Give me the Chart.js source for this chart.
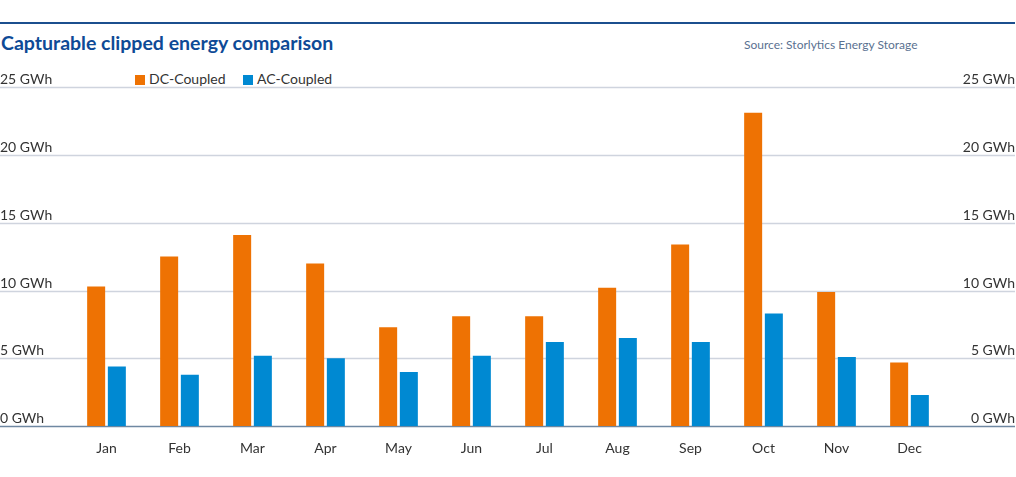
<!DOCTYPE html>
<html>
<head>
<meta charset="utf-8">
<script src="https://cdn.jsdelivr.net/npm/chart.js@4"></script>
<style>
    body { margin: 0; background: #fff; font-family: Lato, "Open Sans", sans-serif; }
    #wrap { position: relative; width: 1016px; height: 477px; overflow: hidden; }
    #rule { position: absolute; left: 0; top: 22px; width: 1015px; height: 2px; background: #1b4f8e; }
    #title { position: absolute; left: 1px; top: 31px; font-size: 19.5px; font-weight: bold; color: #0e4a96; white-space: nowrap; }
    #source { position: absolute; left: 744px; top: 37px; font-size: 12px; color: #5a7191; white-space: nowrap; }
    .legend { position: absolute; top: 70px; font-size: 14px; color: #333; white-space: nowrap; }
    .legend span { display: inline-block; width: 10px; height: 10px; margin-right: 4px; vertical-align: -1px; }
    canvas { position: absolute; left: 0; top: 0; }
</style>
</head>
<body>
<div id="wrap">
    <div id="rule"></div>
    <div id="title">Capturable clipped energy comparison</div>
    <div id="source">Source: Storlytics Energy Storage</div>
    <div class="legend" style="left:135px"><span style="background:#ee7203"></span>DC-Coupled</div>
    <div class="legend" style="left:243px"><span style="background:#0089d2"></span>AC-Coupled</div>
    <canvas id="energyChart" width="1016" height="477"></canvas>
</div>
<script>
const months = ['Jan', 'Feb', 'Mar', 'Apr', 'May', 'Jun', 'Jul', 'Aug', 'Sep', 'Oct', 'Nov', 'Dec'];
const dcCoupled = [10.3, 12.5, 14.1, 12.0, 7.3, 8.1, 8.1, 10.2, 13.4, 23.1, 9.9, 4.7];
const acCoupled = [4.4, 3.8, 5.2, 5.0, 4.0, 5.2, 6.2, 6.5, 6.2, 8.3, 5.1, 2.3];
const yTicks = [0, 5, 10, 15, 20, 25];

// grid lines + GWh labels across the full width, both sides
const fullGrid = {
    id: 'fullGrid',
    beforeDatasetsDraw(chart) {
        const ctx = chart.ctx;
        const y = chart.scales.y;
        ctx.save();
        ctx.font = '14px Lato';
        ctx.fillStyle = '#333';
        ctx.textBaseline = 'alphabetic';
        yTicks.forEach(function (t) {
            const py = Math.round(y.getPixelForValue(t)) + 0.5;
            ctx.strokeStyle = t === 0 ? '#6f88a2' : '#cfd4de';
            ctx.lineWidth = 1.5;
            ctx.beginPath();
            ctx.moveTo(0, py);
            ctx.lineTo(1015, py);
            ctx.stroke();
            const label = t + ' GWh';
            ctx.textAlign = 'left';
            ctx.fillText(label, 0, py - 4);
            ctx.textAlign = 'right';
            ctx.fillText(label, 1015, py - 4);
        });
        ctx.restore();
    }
};

const ctx = document.getElementById('energyChart').getContext('2d');
new Chart(ctx, {
    type: 'bar',
    data: {
        labels: months,
        datasets: [
            {
                label: 'DC-Coupled',
                data: dcCoupled,
                backgroundColor: '#ee7203',
                categoryPercentage: 0.567,
                barPercentage: 0.87
            },
            {
                label: 'AC-Coupled',
                data: acCoupled,
                backgroundColor: '#0089d2',
                categoryPercentage: 0.567,
                barPercentage: 0.87
            }
        ]
    },
    options: {
        responsive: false,
        animation: false,
        layout: {
            padding: { left: 70, right: 70, top: 87, bottom: 14 }
        },
        scales: {
            y: {
                display: false,
                min: 0,
                max: 25
            },
            x: {
                grid: { display: false },
                border: { display: false },
                ticks: {
                    color: '#333',
                    font: { family: 'Lato', size: 14 },
                    padding: 6
                }
            }
        },
        plugins: {
            legend: { display: false },
            tooltip: { enabled: false }
        }
    },
    plugins: [fullGrid]
});
</script>
</body>
</html>
